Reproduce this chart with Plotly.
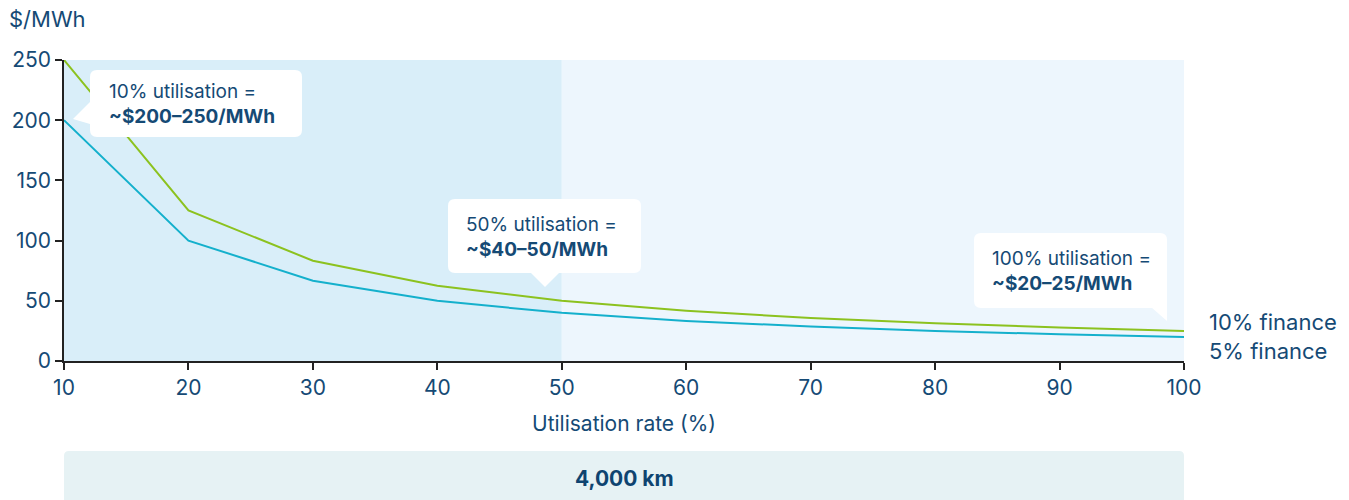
import plotly.graph_objects as go

# Utilisation rate (%) and levelised cost ($/MWh) by finance rate
utilisation = [10, 20, 30, 40, 50, 60, 70, 80, 90, 100]
cost_10pct_finance = [250, 125, 83.3, 62.5, 50, 41.7, 35.7, 31.3, 27.8, 25]
cost_5pct_finance = [200, 100, 66.7, 50, 40, 33.3, 28.6, 25, 22.2, 20]

x_ticks = [10, 20, 30, 40, 50, 60, 70, 80, 90, 100]
y_ticks = [0, 50, 100, 150, 200, 250]

TEXT = "#154a75"
GREEN = "#8cc21f"
BLUE = "#14b0cc"
FONT = "Inter"

W, H = 1349, 500
L, R, T, B = 64, 165, 60, 139
PW, PH = W - L - R, H - T - B


def px(x):
    return (x - L) / PW


def py(y):
    return (H - B - y) / PH


def rounded_box(x0, y0, x1, y1, r=6):
    # rounded rectangle in paper coordinates from pixel corners
    a, b, c, d = px(x0), py(y0), px(x1), py(y1)
    rx, ry = r / PW, r / PH
    return (f"M {a+rx},{b} L {c-rx},{b} Q {c},{b} {c},{b-ry} L {c},{d+ry} "
            f"Q {c},{d} {c-rx},{d} L {a+rx},{d} Q {a},{d} {a},{d+ry} "
            f"L {a},{b-ry} Q {a},{b} {a+rx},{b} Z")


def tri(p1, p2, p3):
    return (f"M {px(p1[0])},{py(p1[1])} L {px(p2[0])},{py(p2[1])} "
            f"L {px(p3[0])},{py(p3[1])} Z")


fig = go.Figure()
fig.add_trace(go.Scatter(x=utilisation, y=cost_10pct_finance, mode="lines",
                         line=dict(color=GREEN, width=2), name="10% finance",
                         cliponaxis=False))
fig.add_trace(go.Scatter(x=utilisation, y=cost_5pct_finance, mode="lines",
                         line=dict(color=BLUE, width=2), name="5% finance",
                         cliponaxis=False))

shapes = [
    dict(type="rect", xref="x", yref="y", x0=10, x1=50, y0=0, y1=250,
         fillcolor="#d9eef9", line_width=0, layer="below"),
    dict(type="rect", xref="x", yref="y", x0=50, x1=100, y0=0, y1=250,
         fillcolor="#edf6fd", line_width=0, layer="below"),
    # bottom distance band
    dict(type="path", xref="paper", yref="paper",
         path=rounded_box(64, 451, 1184, 520, r=5),
         fillcolor="#e6f2f4", line_width=0, layer="below"),
]

callouts = [
    ((90, 70, 302, 137), ((90, 102), (73, 119), (90, 124))),
    ((448, 199, 641, 273), ((530, 272), (545, 287), (560, 272))),
    ((974, 233, 1167, 308), ((1151, 307), (1167, 321), (1167, 300))),
]
for box, pointer in callouts:
    shapes.append(dict(type="path", xref="paper", yref="paper",
                       path=rounded_box(*box, r=7), fillcolor="white",
                       line_width=0, layer="above"))
    shapes.append(dict(type="path", xref="paper", yref="paper",
                       path=tri(*pointer), fillcolor="white",
                       line_width=0, layer="above"))

annotations = []
texts = [
    (107, 104, "10% utilisation =<br><b>~$200–250/MWh</b>"),
    (464, 237, "50% utilisation =<br><b>~$40–50/MWh</b>"),
    (990, 271, "100% utilisation =<br><b>~$20–25/MWh</b>"),
]
for x, y, t in texts:
    annotations.append(dict(xref="paper", yref="paper", x=px(x), y=py(y),
                            xanchor="left", yanchor="middle", align="left",
                            text=t, showarrow=False,
                            font=dict(family=FONT, size=19, color=TEXT)))

annotations += [
    dict(xref="paper", yref="paper", x=px(1207), y=py(322), xanchor="left",
         yanchor="middle", text="10% finance", showarrow=False,
         font=dict(family=FONT, size=22, color=TEXT)),
    dict(xref="paper", yref="paper", x=px(1207), y=py(351), xanchor="left",
         yanchor="middle", text="5% finance", showarrow=False,
         font=dict(family=FONT, size=22, color=TEXT)),
    dict(xref="paper", yref="paper", x=px(7), y=py(19), xanchor="left",
         yanchor="middle", text="$/MWh", showarrow=False,
         font=dict(family=FONT, size=22, color=TEXT)),
    dict(xref="paper", yref="paper", x=px(624), y=py(478), xanchor="center",
         yanchor="middle", text="<b>4,000 km</b>", showarrow=False,
         font=dict(family=FONT, size=21, color="#0e4470")),
]

fig.update_layout(
    width=W, height=H,
    margin=dict(l=L, r=R, t=T, b=B),
    paper_bgcolor="white", plot_bgcolor="white",
    showlegend=False,
    shapes=shapes, annotations=annotations,
    font=dict(family=FONT, color=TEXT),
    xaxis=dict(range=[10, 100], tickvals=x_ticks, showgrid=False,
               zeroline=False, showline=True, linecolor="#222", linewidth=1.5,
               ticks="outside", ticklen=7, tickcolor="#222", tickwidth=1.5,
               tickfont=dict(family=FONT, size=21, color=TEXT),
               title=dict(text="Utilisation rate (%)", standoff=17,
                          font=dict(family=FONT, size=21, color=TEXT))),
    yaxis=dict(range=[0, 250], tickvals=y_ticks, showgrid=False,
               zeroline=False, showline=True, linecolor="#222", linewidth=1.5,
               ticks="outside", ticklen=7, tickcolor="#222", tickwidth=1.5,
               tickfont=dict(family=FONT, size=21, color=TEXT)),
)

fig.write_html("out.html")
